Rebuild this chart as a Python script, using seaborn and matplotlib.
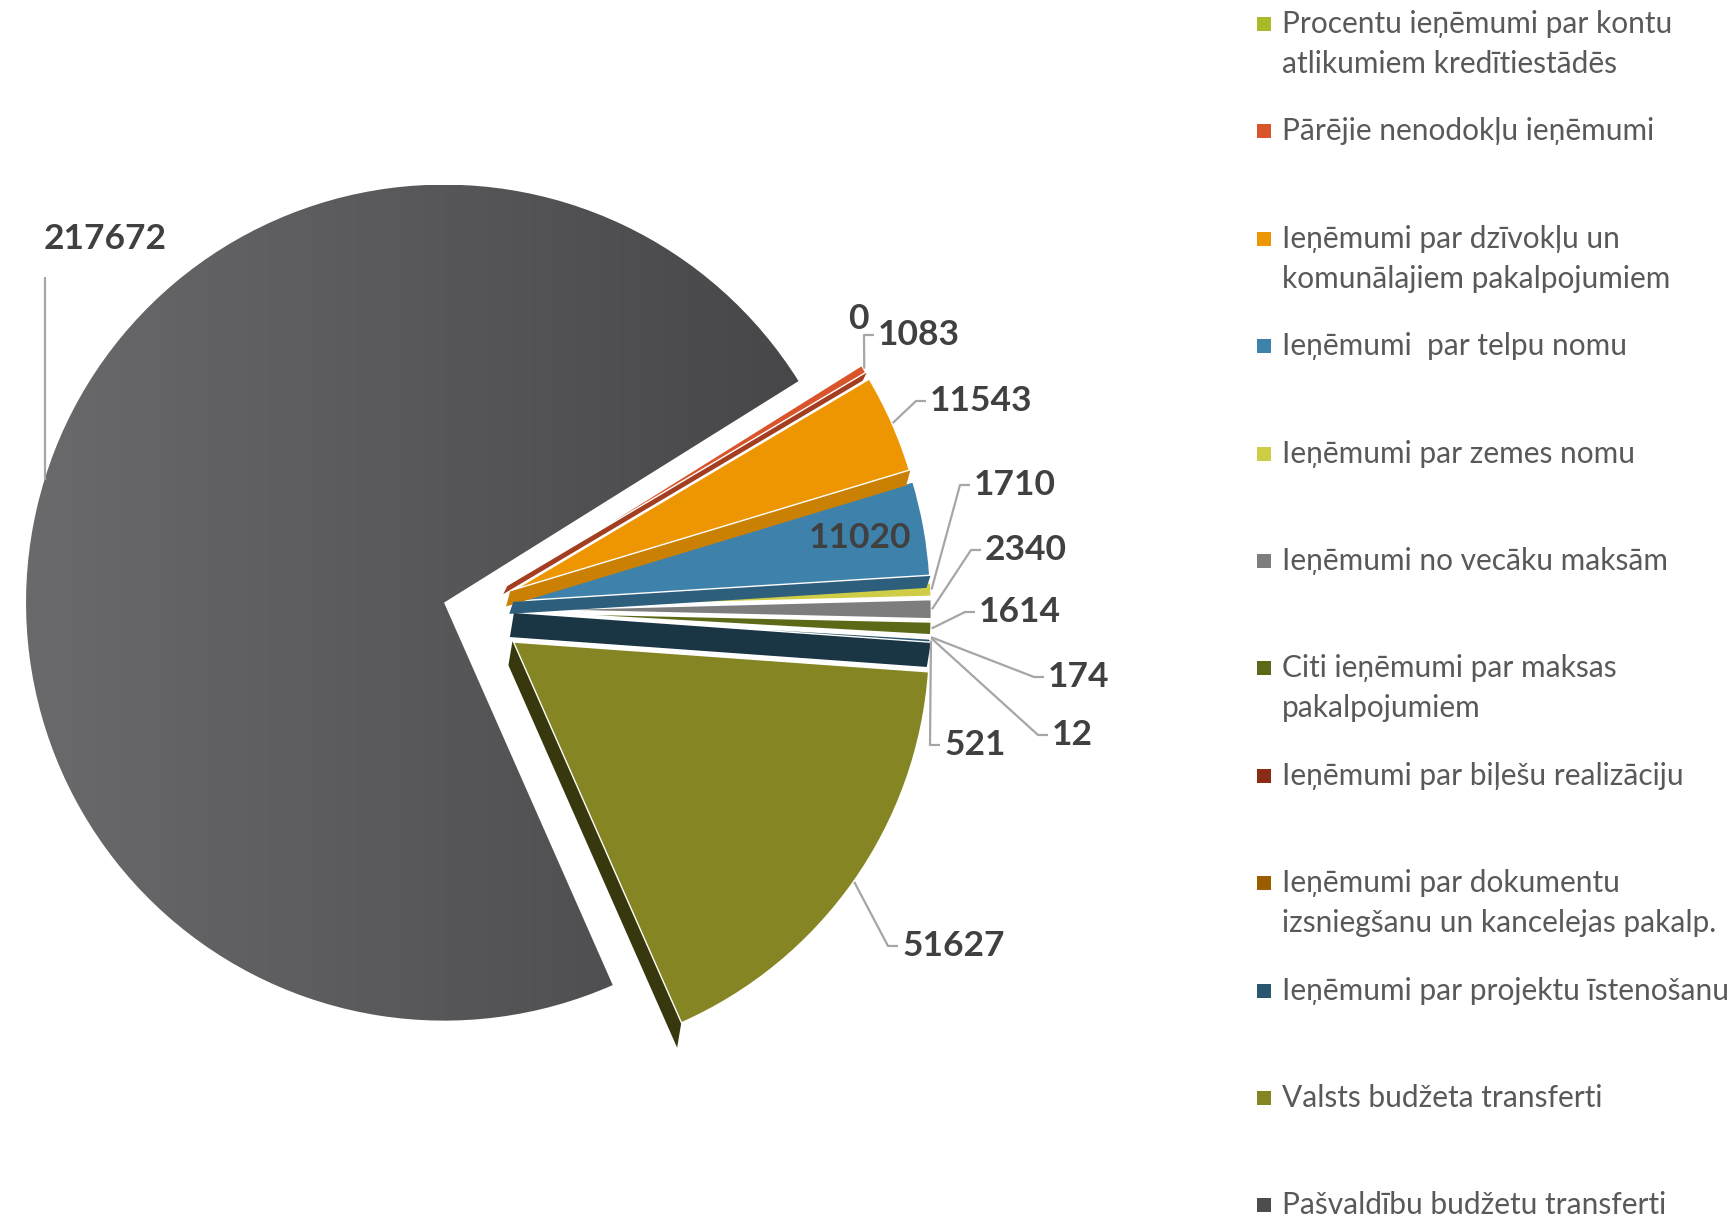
import numpy as np
import matplotlib
matplotlib.use("Agg")
import matplotlib.pyplot as plt
import matplotlib.colors as mcolors
from matplotlib.patches import Polygon
import seaborn as sns

# Data (clockwise from the top slice)
categories = ["Procentu ieņēmumi par kontu\natlikumiem kredītiestādēs",
              "Pārējie nenodokļu ieņēmumi",
              "Ieņēmumi par dzīvokļu un\nkomunālajiem pakalpojumiem",
              "Ieņēmumi  par telpu nomu",
              "Ieņēmumi par zemes nomu",
              "Ieņēmumi no vecāku maksām",
              "Citi ieņēmumi par maksas\npakalpojumiem",
              "Ieņēmumi par biļešu realizāciju",
              "Ieņēmumi par dokumentu\nizsniegšanu un kancelejas pakalp.",
              "Ieņēmumi par projektu īstenošanu",
              "Valsts budžeta transferti",
              "Pašvaldību budžetu transferti"]
values = [0, 1083, 11543, 11020, 1710, 2340, 1614, 174, 12, 521, 51627, 217672]
value_labels = ["0", "1083", "11543", "11020", "1710", "2340", "1614", "174", "12", "521", "51627", "217672"]

colors = ["#A8BC2A", "#D9542A", "#EE9602", "#3E82AC", "#CFCD45", "#7D7D7D",
          "#5C6A17", "#8B2C17", "#9A5D00", "#2A566E", "#868524", "#4D4D4F"]
# shading and depth of the visible side faces (3D look)
side_dark = [0.7, 0.75, 0.85, 0.72, 0.8, 0.75, 0.7, 0.7, 0.7, 0.62, 0.42, 0.7]
side_depth = [0, 8, 15, 12, 0, 0, 0, 0, 0, 24, 24, 0]
explode = [0.11, 0.11, 0.11, 0.11, 0.11, 0.11, 0.11, 0.11, 0.11, 0.11, 0.13, 0.06]

# label layout (pixels, y measured from the top)
label_xy = [(858, 319), (878, 335), (930, 401), (860, 538), (974, 485), (985, 550),
            (979, 612), (1048, 677), (1052, 735), (944, 745), (902, 946), (44, 239)]
label_ha = ["center", "left", "left", "center", "left", "left",
            "left", "left", "left", "left", "left", "left"]

W, H = 1736, 1219
R = 418

sns.set_theme(style="white")
plt.rcParams['font.family'] = ['Lato', 'DejaVu Sans']

fig = plt.figure(figsize=(W / 100, H / 100), dpi=100)
ax = fig.add_axes([0, 0, 1, 1])

# pie() offsets wedges in data units, so scale the explode fractions by the radius
wedges, _ = ax.pie(values, colors=colors, startangle=32, counterclock=False,
                   explode=[e * R for e in explode], center=(468, H - 610), radius=R,
                   wedgeprops=dict(edgecolor="white", linewidth=2))

n = len(values)
for w in wedges:
    w.set_zorder(10)

# side faces: lower slices sit in front of the upper ones
for i, w in enumerate(wedges):
    if side_depth[i] == 0:
        continue
    c = np.array(w.center)
    t = np.deg2rad(w.theta1)
    p1 = c + w.r * np.array([np.cos(t), np.sin(t)])
    shift = np.array([-4.0, -side_depth[i]])
    dark = np.array(mcolors.to_rgb(colors[i])) * side_dark[i]
    face = Polygon([c, p1, p1 + shift, c + shift], closed=True,
                   facecolor=dark, edgecolor="none", zorder=20 + i)
    ax.add_patch(face)

# soft gradient on the large slice
gw = wedges[-1]
gx, gy = gw.center
grad = np.linspace(0, 1, 256).reshape(1, -1)
cmap = mcolors.LinearSegmentedColormap.from_list("g", ["#6A6A6C", "#444446"])
im = ax.imshow(grad, extent=[gx - gw.r, gx + gw.r, gy - gw.r, gy + gw.r],
               cmap=cmap, aspect="auto", zorder=10.5)
im.set_clip_path(gw)

# value labels with leader lines
for i, w in enumerate(wedges):
    lx, ly = label_xy[i][0], H - label_xy[i][1]
    ax.text(lx, ly, value_labels[i], ha=label_ha[i], va="center", fontsize=25.5,
            fontweight="bold", color="#404040", zorder=300)
    if i in (0, 3):
        continue
    mid = np.deg2rad((w.theta1 + w.theta2) / 2)
    axx = w.center[0] + w.r * np.cos(mid)
    ayy = w.center[1] + w.r * np.sin(mid)
    if i == n - 1:
        xs, ys = [axx, axx], [ayy, ly - 38]
    else:
        xs, ys = [axx, lx - 14, lx - 4], [ayy, ly, ly]
    ax.plot(xs, ys, color="#A6A6A6", lw=1.6, zorder=250, solid_capstyle="butt")

# legend on the right
leg_x, leg_y0, leg_step, line_h = 1264, 24, 107.4, 40
for i, cat in enumerate(categories):
    y = H - (leg_y0 + i * leg_step)
    ax.scatter([leg_x], [y], marker="s", s=110, color=colors[i], zorder=300,
               linewidths=0)
    for j, line in enumerate(cat.split("\n")):
        ax.text(leg_x + 18, y - j * line_h, line, ha="left", va="center",
                fontsize=21.5, color="#595959", zorder=300)

ax.set_xlim(0, W)
ax.set_ylim(0, H)
ax.set_aspect("equal")
ax.axis("off")

fig.savefig("out.png", dpi=100)
